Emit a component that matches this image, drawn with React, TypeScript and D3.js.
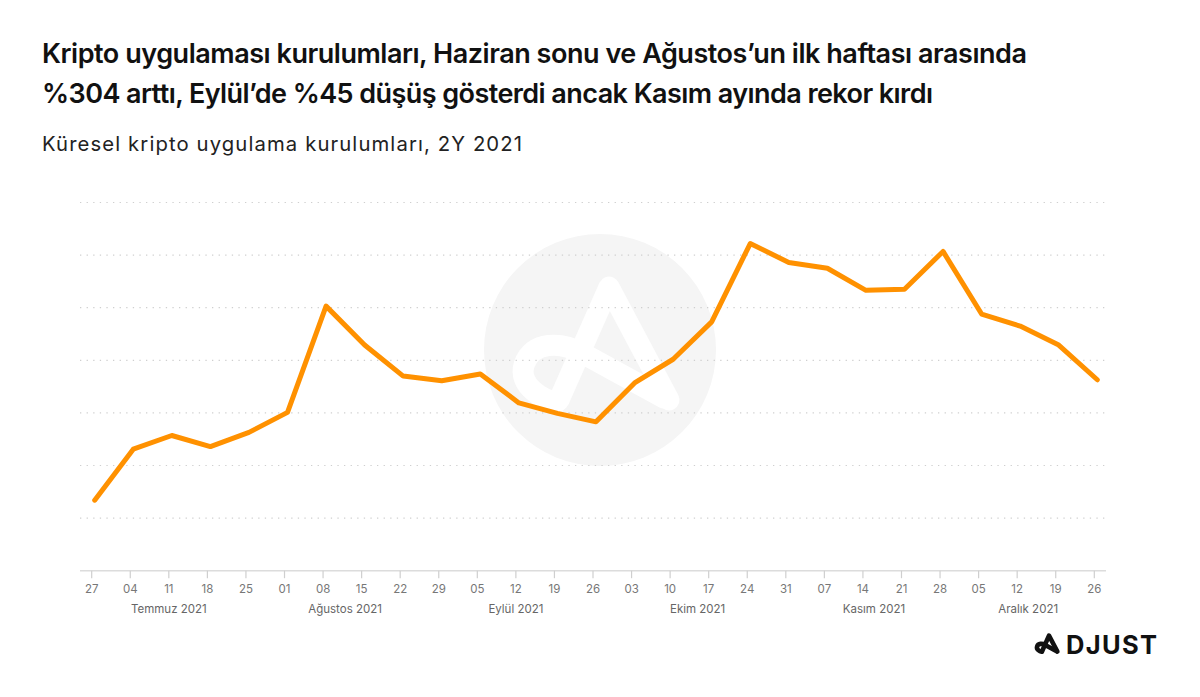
import React from 'react';
import * as d3 from 'd3';

// weekly install index for crypto apps, H2 2021 (gridline step = 10)
const weeks = [
  '2021-06-27', '2021-07-04', '2021-07-11', '2021-07-18', '2021-07-25',
  '2021-08-01', '2021-08-08', '2021-08-15', '2021-08-22', '2021-08-29',
  '2021-09-05', '2021-09-12', '2021-09-19', '2021-09-26',
  '2021-10-03', '2021-10-10', '2021-10-17', '2021-10-24', '2021-10-31',
  '2021-11-07', '2021-11-14', '2021-11-21', '2021-11-28',
  '2021-12-05', '2021-12-12', '2021-12-19', '2021-12-26',
];
const installs = [
  13.4, 23.1, 25.7, 23.6, 26.3,
  30.1, 50.3, 42.9, 37.0, 36.1,
  37.4, 31.9, 29.9, 28.3,
  35.7, 40.2, 47.3, 62.2, 58.6,
  57.5, 53.3, 53.5, 60.7,
  48.8, 46.5, 42.9, 36.3,
];
const monthLabels = ['Temmuz 2021', 'Ağustos 2021', 'Eylül 2021', 'Ekim 2021', 'Kasım 2021', 'Aralık 2021'];
const monthAnchors = ['2021-07-11', '2021-08-12', '2021-09-12', '2021-10-15', '2021-11-16', '2021-12-14'];
const gridValues = [10, 20, 30, 40, 50, 60, 70];

const title = [
  'Kripto uygulaması kurulumları, Haziran sonu ve Ağustos’un ilk haftası arasında',
  '%304 arttı, Eylül’de %45 düşüş gösterdi ancak Kasım ayında rekor kırdı',
];
const subtitle = 'Küresel kripto uygulama kurulumları, 2Y 2021';

const width = 1200;
const height = 697;
const FONT = 'Inter, "Noto Sans", sans-serif';

const parse = d3.utcParse('%Y-%m-%d');

// the A mark of the logo, centred on 0,0
const logoLegs = 'M-43,50 L7,-63 L67,50';
const logoLoop = 'M62,48 L-20,3 C-40,-8 -70,-10 -78,15 C-84,35 -60,50 -45,52';

function LogoMark({ x, y, s, sw, color }: { x: number; y: number; s: number; sw: number; color: string }) {
  return (
    <g transform={`translate(${x},${y}) scale(${s})`} fill='none' stroke={color}
      strokeWidth={sw / s} strokeLinecap='round' strokeLinejoin='round'>
      <path d={logoLegs} />
      <path d={logoLoop} />
    </g>
  );
}

export default function App() {
  const dates = weeks.map((d) => parse(d) as Date);
  const x = d3.scaleUtc()
    .domain([dates[0], dates[dates.length - 1]])
    .range([91.7, 1094.3]);
  const y = d3.scaleLinear().domain([0, 70]).range([570.7, 202.5]);

  const line = d3.line<number>()
    .x((_, i) => x(dates[i]))
    .y((d) => y(d));

  const fmt = d3.utcFormat('%d');

  return (
    <svg width={width} height={height} style={{ position: 'absolute', left: 0, top: 0 }}
      fontFamily={FONT}>
      <rect width={width} height={height} fill='#fff' />

      <text x={42} y={63.3} fontSize={27} fontWeight={600} fill='#111'
        textLength={985} lengthAdjust='spacing'>{title[0]}</text>
      <text x={42} y={102.7} fontSize={27} fontWeight={600} fill='#111'
        textLength={891} lengthAdjust='spacing'>{title[1]}</text>
      <text x={42} y={150.7} fontSize={20.3} fill='#222'
        textLength={480} lengthAdjust='spacing'>{subtitle}</text>

      {/* watermark */}
      <circle cx={600} cy={350} r={116} fill='#f5f5f5' />
      <LogoMark x={602} y={350} s={1} sw={21} color='#fff' />

      {gridValues.map((v) => (
        <line key={v} x1={80} x2={1106} y1={y(v)} y2={y(v)}
          stroke='#cfcfcf' strokeWidth={1.2} strokeDasharray='1.3 5.3' />
      ))}

      <line x1={80} x2={1106} y1={y(0)} y2={y(0)} stroke='#dcdcdc' strokeWidth={1.5} />
      {dates.map((d, i) => (
        <g key={i} transform={`translate(${x(d)},0)`}>
          <line y1={y(0)} y2={y(0) + 7.5} stroke='#cfcfcf' strokeWidth={1.2} />
          <text y={593.3} textAnchor='middle' fontSize={11.5} fill='#777'>{fmt(d)}</text>
        </g>
      ))}
      {monthLabels.map((m, i) => (
        <text key={m} x={x(parse(monthAnchors[i]) as Date)} y={613.3} textAnchor='middle'
          fontSize={11.5} fill='#666'>{m}</text>
      ))}

      <path d={line(installs) ?? ''} transform='translate(3,0)' fill='none' stroke='#ff9100'
        strokeWidth={5} strokeLinejoin='round' strokeLinecap='round' />

      {/* brand */}
      <LogoMark x={1048} y={644.5} s={0.14} sw={4.6} color='#111' />
      <text x={1066} y={653.5} fontSize={25.5} fontWeight={700} fill='#111'
        textLength={91} lengthAdjust='spacing'>DJUST</text>
    </svg>
  );
}
